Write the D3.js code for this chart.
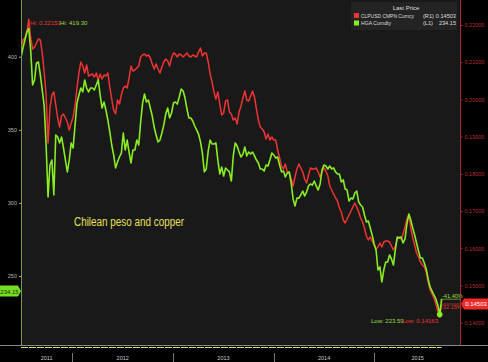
<!DOCTYPE html>
<html>
<head>
<meta charset="utf-8">
<script src="https://cdn.jsdelivr.net/npm/d3@7"></script>
<style>
  html, body { margin: 0; padding: 0; background: #000; }
  svg { display: block; font-family: "Liberation Sans", Arial, sans-serif; }
</style>
</head>
<body>
<div id="chart"></div>
<script>
// weekly closes, first week ends 2011-06-29
const firstWeek = "2011-06-29";

// HGA Comdty (copper, US cents/lb) - left axis
const copper = [
  399.6, 406.0, 411.4, 416.9, 419.3, 404.6, 380.6, 384.1, 395.7, 396.4,
  387.5, 377.2, 366.3, 339.6, 304.0, 325.9, 329.3, 305.4, 346.4, 345.1,
  341.0, 345.1, 337.6, 329.3, 321.2, 329.3, 341.0, 337.6, 353.3, 368.3,
  373.8, 378.6, 375.9, 384.1, 378.6, 375.9, 378.6, 378.6, 377.2, 380.6,
  384.1, 373.8, 364.9, 369.0, 363.5, 356.7, 348.5, 339.6, 332.8, 323.9,
  328.0, 331.4, 334.1, 347.8, 336.2, 343.0, 334.8, 327.3, 336.2, 336.2,
  343.0, 339.6, 355.3, 368.3, 374.5, 369.0, 370.4, 364.9, 359.4, 351.9,
  346.4, 341.7, 343.0, 347.8, 353.3, 360.8, 364.9, 358.1, 361.5, 368.3,
  369.0, 367.6, 372.4, 377.9, 376.5, 371.7, 364.2, 358.1, 358.1, 356.0,
  352.6, 349.9, 347.1, 341.7, 334.1, 321.2, 323.2, 335.5, 343.0, 340.3,
  340.3, 341.0, 329.3, 319.8, 324.5, 318.4, 323.9, 322.5, 321.2, 315.0,
  332.1, 341.0, 338.9, 334.8, 331.4, 333.4, 338.2, 332.1, 334.8, 333.4,
  334.8, 332.1, 329.3, 327.3, 323.2, 323.2, 321.8, 325.9, 325.2, 329.3,
  334.1, 332.8, 330.7, 331.4, 325.9, 321.2, 321.8, 317.7, 320.5, 321.2,
  313.6, 302.7, 297.9, 303.3, 303.3, 305.4, 308.1, 304.7, 307.5, 311.6,
  312.9, 312.2, 315.0, 311.6, 308.8, 312.9, 322.5, 325.9, 325.2, 323.2,
  325.2, 323.2, 323.9, 321.2, 319.8, 319.8, 314.3, 315.7, 309.5, 308.8,
  301.3, 303.3, 302.7, 306.8, 308.1, 300.6, 298.6, 297.2, 291.7, 286.9,
  287.6, 282.8, 278.0, 271.9, 267.8, 254.1, 256.2, 245.9, 254.1, 259.6,
  259.6, 264.4, 261.6, 257.5, 267.8, 276.7, 276.0, 276.7, 272.6, 275.3,
  285.6, 292.4, 288.3, 282.8, 278.0, 272.6, 267.1, 262.3, 262.3, 258.9,
  254.8, 247.9, 242.5, 239.7, 237.0, 234.3, 230.2, 223.59, 234.15
];

// CLPUSD CMPN Curncy - right axis
const peso = [
  0.21375, 0.21597, 0.21651, 0.21785, 0.22153, 0.21651, 0.21355, 0.21409, 0.21516, 0.21624,
  0.21597, 0.21248, 0.20737, 0.20119, 0.18829, 0.19770, 0.20119, 0.20200, 0.19850, 0.19501,
  0.19259, 0.19555, 0.19609, 0.19501, 0.19394, 0.19179, 0.19367, 0.19528, 0.19824, 0.20307,
  0.20710, 0.21006, 0.20898, 0.20710, 0.20925, 0.20630, 0.20657, 0.20683, 0.20603, 0.20710,
  0.20522, 0.20683, 0.20549, 0.20657, 0.20630, 0.20710, 0.20334, 0.20012, 0.19716, 0.19609,
  0.19985, 0.19877, 0.20119, 0.20307, 0.20361, 0.20307, 0.20576, 0.20898, 0.20764, 0.20791,
  0.20845, 0.20898, 0.21140, 0.21194, 0.21221, 0.21167, 0.21194, 0.21113, 0.20952, 0.20818,
  0.20952, 0.20818, 0.20710, 0.20871, 0.21006, 0.21086, 0.21033, 0.20898, 0.21113, 0.21248,
  0.21221, 0.21140, 0.21221, 0.21194, 0.21140, 0.21194, 0.21248, 0.21167, 0.21140, 0.21194,
  0.21167, 0.21140, 0.21275, 0.21382, 0.21167, 0.21248, 0.21248, 0.21006, 0.20683, 0.20468,
  0.20200, 0.20012, 0.20200, 0.19877, 0.19582, 0.19635, 0.19958, 0.19985, 0.19662, 0.19609,
  0.19447, 0.19501, 0.19340, 0.19662, 0.19824, 0.20039, 0.20227, 0.19985, 0.19958, 0.20092,
  0.20227, 0.20065, 0.19743, 0.19447, 0.19259, 0.19206, 0.19125, 0.18937, 0.19071, 0.18910,
  0.18991, 0.18910, 0.18910, 0.18641, 0.18426, 0.18211, 0.18131, 0.18265, 0.18050, 0.18023,
  0.17862, 0.17674, 0.17916, 0.18131, 0.18265, 0.18158, 0.18050, 0.17862, 0.17755, 0.17970,
  0.18158, 0.18131, 0.18131, 0.18158, 0.18050, 0.17916, 0.18050, 0.18158, 0.18077, 0.17943,
  0.17674, 0.17566, 0.17459, 0.17352, 0.17271, 0.17083, 0.16975, 0.16760, 0.16680, 0.16787,
  0.16895, 0.17002, 0.17110, 0.17217, 0.17110, 0.16975, 0.16814, 0.16707, 0.16545, 0.16330,
  0.16223, 0.16304, 0.16196, 0.16089, 0.15981, 0.16035, 0.16142, 0.16035, 0.16169, 0.16196,
  0.16196, 0.16169, 0.16062, 0.15954, 0.16062, 0.16250, 0.16304, 0.16250, 0.16384, 0.16572,
  0.16787, 0.16895, 0.16545, 0.16277, 0.16089, 0.15874, 0.15766, 0.15632, 0.15551, 0.15497,
  0.15363, 0.15094, 0.14879, 0.14772, 0.14664, 0.14503, 0.14315, 0.14163, 0.14503
];

const years = ["2011", "2012", "2013", "2014", "2015"];
const leftTicks = [250, 300, 350, 400];
const rightTicks = [0.14, 0.15, 0.16, 0.17, 0.18, 0.19, 0.20, 0.21, 0.22];

const W = 488, H = 362;
const plot = {left: 21, right: 461, top: 0, bottom: 345};

const start = d3.timeParse("%Y-%m-%d")(firstWeek);
const dates = copper.map((d, i) => d3.timeDay.offset(start, 7 * i));

const x = d3.scaleTime()
  .domain([new Date(2012, 0, 1), new Date(2015, 0, 1)])
  .range([72.3, 374.4]);
const yL = d3.scaleLinear().domain([250, 400]).range([276, 56.7]);
const yR = d3.scaleLinear().domain([0.14, 0.22]).range([322.7, 25]);

const pct = v => (v * 100).toFixed(2) + "%";

const svg = d3.select("#chart").append("svg")
  .attr("width", W).attr("height", H);

svg.append("rect").attr("width", W).attr("height", H).attr("fill", "#000");
svg.append("rect")
  .attr("x", plot.left).attr("y", plot.top)
  .attr("width", plot.right - plot.left).attr("height", plot.bottom - plot.top)
  .attr("fill", "#1a1919");

// legend box
const lg = svg.append("g").attr("transform", "translate(351,2)");
lg.append("rect").attr("width", 106).attr("height", 28).attr("fill", "#242323");
lg.append("text").attr("x", 55).attr("y", 7.5).attr("text-anchor", "middle")
  .attr("fill", "#ddd").attr("font-size", 6).text("Last Price");
const legendRows = [
  {name: "CLPUSD CMPN Curncy", tag: "(R1)", last: "0.14503", color: "#ee3333", w: 53},
  {name: "HGA Comdty", tag: "(L1)", last: "234.15", color: "#88ee22", w: 30}
];
legendRows.forEach((r, i) => {
  const g = lg.append("g").attr("transform", `translate(0,${11 + i * 7.5})`);
  g.append("rect").attr("x", 3).attr("y", 0).attr("width", 5).attr("height", 5).attr("fill", r.color);
  g.append("text").attr("x", 10).attr("y", 4.8).attr("fill", "#ddd").attr("font-size", 5.6)
    .attr("textLength", r.w).attr("lengthAdjust", "spacingAndGlyphs").text(r.name);
  g.append("text").attr("x", 72).attr("y", 4.8).attr("fill", "#ddd").attr("font-size", 5.6).text(r.tag);
  g.append("text").attr("x", 105).attr("y", 4.8).attr("text-anchor", "end")
    .attr("fill", "#ddd").attr("font-size", 5.6).text(r.last);
});

// series
svg.append("clipPath").attr("id", "clip")
  .append("rect").attr("x", plot.left).attr("y", 0)
  .attr("width", plot.right - plot.left).attr("height", plot.bottom);

const pesoLine = d3.line().x((d, i) => x(dates[i])).y(d => yR(d));
const copperLine = d3.line().x((d, i) => x(dates[i])).y(d => yL(d));

svg.append("path").datum(peso).attr("clip-path", "url(#clip)")
  .attr("d", pesoLine).attr("fill", "none")
  .attr("stroke", "#ee3333").attr("stroke-width", 1.5).attr("stroke-linejoin", "round");
svg.append("path").datum(copper).attr("clip-path", "url(#clip)")
  .attr("d", copperLine).attr("fill", "none")
  .attr("stroke", "#88ee22").attr("stroke-width", 1.6).attr("stroke-linejoin", "round");

// hi / low annotations
const loIdx = copper.indexOf(d3.min(copper));
const last = copper.length - 1;
svg.append("text").attr("x", 30).attr("y", 25).attr("fill", "#ee3333").attr("font-size", 6)
  .text("Hi: " + d3.format(".5f")(d3.max(peso)));
svg.append("text").attr("x", 60).attr("y", 25).attr("fill", "#99dd44").attr("font-size", 6)
  .text("Hi: " + d3.format(".2f")(d3.max(copper)));
svg.append("text").attr("x", 371).attr("y", 323).attr("fill", "#99dd44").attr("font-size", 6)
  .text("Low: " + d3.format(".2f")(d3.min(copper)));
svg.append("text").attr("x", 402).attr("y", 323).attr("fill", "#ee3333").attr("font-size", 6)
  .text("Low: " + d3.format(".5f")(d3.min(peso)));

svg.append("circle").attr("cx", x(dates[loIdx])).attr("cy", yL(copper[loIdx]))
  .attr("r", 2.8).attr("fill", "#88ee22");

// percent change since first close
const chgCopper = copper[last] / copper[0] - 1;
const chgPeso = peso[last] / peso[0] - 1;
svg.append("line").attr("x1", x(dates[last]) - 1).attr("x2", plot.right - 1)
  .attr("y1", yL(copper[last])).attr("y2", yL(copper[last]))
  .attr("stroke", "#99dd44").attr("stroke-width", 0.6);
svg.append("text").attr("x", 442).attr("y", yL(copper[last]) - 1.5)
  .attr("fill", "#99dd44").attr("font-size", 5.6).text(pct(chgCopper));
svg.append("line").attr("x1", x(dates[last]) - 1).attr("x2", plot.right - 1)
  .attr("y1", yR(peso[last])).attr("y2", yR(peso[last]))
  .attr("stroke", "#ee3333").attr("stroke-width", 0.6);
svg.append("text").attr("x", 441).attr("y", yR(peso[last]) + 5)
  .attr("fill", "#ee3333").attr("font-size", 5.6).text(pct(chgPeso));

// title
svg.append("text").attr("x", 74).attr("y", 226)
  .attr("fill", "#e6e05a").attr("font-size", 12)
  .attr("textLength", 110).attr("lengthAdjust", "spacingAndGlyphs")
  .text("Chilean peso and copper");

// left axis
const axL = svg.append("g").attr("transform", `translate(${plot.left},0)`)
  .call(d3.axisLeft(yL).tickValues(leftTicks).tickSize(2).tickPadding(2));
axL.select(".domain").remove();
axL.selectAll("line").attr("stroke", "#aaa");
axL.selectAll("text").attr("fill", "#bbb").attr("font-size", 5.5);
svg.append("line").attr("x1", plot.left + 0.5).attr("x2", plot.left + 0.5)
  .attr("y1", 0).attr("y2", plot.bottom).attr("stroke", "#7a9a50").attr("stroke-width", 1);

// right axis
const axR = svg.append("g").attr("transform", `translate(${plot.right - 0.5},0)`)
  .call(d3.axisRight(yR).tickValues(rightTicks).tickFormat(d3.format(".5f")).tickSize(2).tickPadding(2));
axR.select(".domain").remove();
axR.selectAll("line").attr("stroke", "#c03030");
axR.selectAll("text").attr("fill", "#b83030").attr("font-size", 5.5);
svg.append("line").attr("x1", plot.right - 0.5).attr("x2", plot.right - 0.5)
  .attr("y1", 0).attr("y2", plot.bottom).attr("stroke", "#b02828").attr("stroke-width", 1);

// last value flags
const flagL = svg.append("g").attr("transform", "translate(0,285.5)");
flagL.append("path").attr("d", "M0,0H18L21,5.5L18,11H0Z").attr("fill", "#77dd22");
flagL.append("text").attr("x", 9.5).attr("y", 8).attr("text-anchor", "middle")
  .attr("fill", "#113300").attr("font-size", 6).text(d3.format(".2f")(copper[last]));
const flagR = svg.append("g").attr("transform", `translate(${plot.right},${yR(peso[last]) - 5.5})`);
flagR.append("path").attr("d", "M0,5.5L3,0H27V11H3Z").attr("fill", "#ee2b2b");
flagR.append("text").attr("x", 15).attr("y", 8).attr("text-anchor", "middle")
  .attr("fill", "#fff").attr("font-size", 6).text(d3.format(".5f")(peso[last]));

// bottom time axis
svg.append("line").attr("x1", 0).attr("x2", W).attr("y1", 345.5).attr("y2", 345.5)
  .attr("stroke", "#888").attr("stroke-width", 1);
svg.append("line").attr("x1", plot.left).attr("x2", x(dates[last]))
  .attr("y1", 347.5).attr("y2", 347.5)
  .attr("stroke", "#e8dc50").attr("stroke-width", 1.2).attr("stroke-dasharray", "7,1");

const yearStarts = years.map(y => new Date(+y, 0, 1));
svg.append("g").selectAll("line").data(yearStarts.slice(1)).enter().append("line")
  .attr("x1", d => Math.round(x(d)) + 0.5).attr("x2", d => Math.round(x(d)) + 0.5)
  .attr("y1", 353).attr("y2", 362).attr("stroke", "#777");
svg.append("g").selectAll("text").data(yearStarts).enter().append("text")
  .attr("x", d => {
    const a = Math.max(plot.left, x(d));
    const b = Math.min(plot.right, x(d3.timeYear.offset(d, 1)));
    return (a + b) / 2;
  })
  .attr("y", 359.5).attr("text-anchor", "middle")
  .attr("fill", "#ccc").attr("font-size", 5.5)
  .text((d, i) => years[i]);
</script>
</body>
</html>
